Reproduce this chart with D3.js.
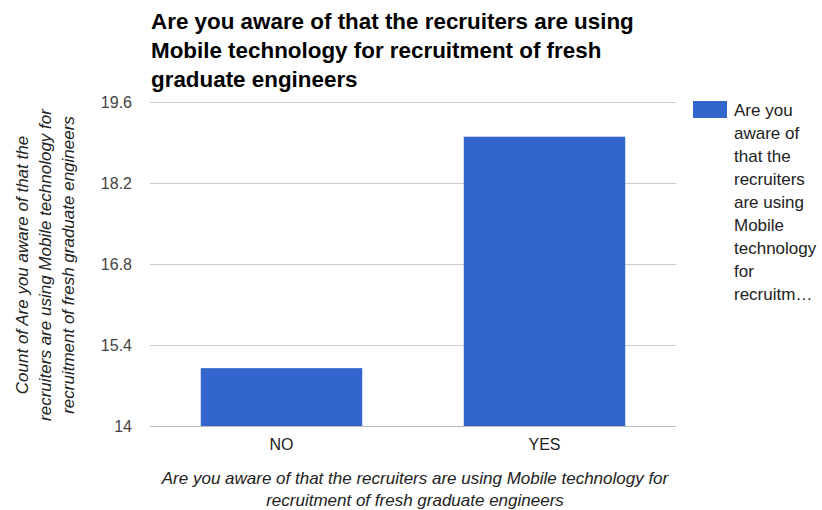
<!DOCTYPE html>
<html>
<head>
<meta charset="utf-8">
<script src="https://cdn.jsdelivr.net/npm/d3@7"></script>
<style>
  html, body { margin: 0; padding: 0; background: #fff; }
  svg { display: block; font-family: "Liberation Sans", Arial, sans-serif; }
</style>
</head>
<body>
<svg id="chart" width="822" height="510"></svg>
<script>
// Survey answers and counts
const categories = ["NO", "YES"];
const counts = [15, 19];
const yTicks = [14, 15.4, 16.8, 18.2, 19.6];

const titleLines = [
  "Are you aware of that the recruiters are using",
  "Mobile technology for recruitment of fresh",
  "graduate engineers"
];
const yTitleLines = [
  "Count of Are you aware of that the",
  "recruiters are using Mobile technology for",
  "recruitment of fresh graduate engineers"
];
const xTitleLines = [
  "Are you aware of that the recruiters are using Mobile technology for",
  "recruitment of fresh graduate engineers"
];
const legendLines = ["Are you", "aware of", "that the", "recruiters", "are using", "Mobile", "technology", "for", "recruitm…"];

const svg = d3.select("#chart");
const plot = { left: 150, right: 676, top: 102, bottom: 426 };
const barColor = "#3366cc";
const fontFamily = "Liberation Sans, Arial, sans-serif";

const x = d3.scaleBand().domain(categories).range([plot.left, plot.right]).paddingInner(0.386).paddingOuter(0.193);
const y = d3.scaleLinear().domain([14, 19.6]).range([plot.bottom, plot.top]);

// Gridlines
svg.append("g").selectAll("line").data(yTicks).join("line")
  .attr("x1", plot.left).attr("x2", plot.right)
  .attr("y1", d => y(d) + 0.5).attr("y2", d => y(d) + 0.5)
  .attr("stroke", d => d === 14 ? "#bbbbbb" : "#cccccc").attr("stroke-width", 1);

// Y tick labels
const yAxis = d3.axisLeft(y).tickValues(yTicks).tickSize(0).tickPadding(0).tickFormat(d => String(d));
svg.append("g").attr("transform", `translate(132,0)`).call(yAxis)
  .call(g => g.select(".domain").remove())
  .selectAll("text").attr("font-size", 16).attr("fill", "#444").attr("font-family", fontFamily);

// Bars
svg.append("g").selectAll("rect").data(categories).join("rect")
  .attr("x", d => x(d)).attr("width", x.bandwidth())
  .attr("y", (d, i) => y(counts[i])).attr("height", (d, i) => y(14) - y(counts[i]))
  .attr("fill", barColor);

// X labels
const xAxis = d3.axisBottom(x).tickSize(0).tickPadding(0);
svg.append("g").attr("transform", `translate(0,450)`).call(xAxis)
  .call(g => g.select(".domain").remove())
  .selectAll("text").attr("font-size", 16).attr("fill", "#222").attr("dy", 0)
  .attr("font-family", fontFamily);

// Title
svg.append("g").selectAll("text").data(titleLines).join("text")
  .attr("x", 151).attr("y", (d, i) => 29 + i * 29)
  .attr("font-size", 22.4).attr("font-weight", "bold").attr("fill", "#000")
  .text(d => d);

// Y-axis title
svg.append("g").attr("transform", "translate(0,265) rotate(-90)")
  .selectAll("text").data(yTitleLines).join("text")
  .attr("x", 0).attr("y", (d, i) => 28 + i * 23)
  .attr("text-anchor", "middle").attr("font-size", 17).attr("font-style", "italic").attr("fill", "#222")
  .text(d => d);

// X-axis title
svg.append("g").selectAll("text").data(xTitleLines).join("text")
  .attr("x", 415).attr("y", (d, i) => 484 + i * 22)
  .attr("text-anchor", "middle").attr("font-size", 17).attr("font-style", "italic").attr("fill", "#222")
  .text(d => d);

// Legend
svg.append("rect").attr("x", 693).attr("y", 101).attr("width", 34).attr("height", 17).attr("fill", barColor);
svg.append("g").selectAll("text").data(legendLines).join("text")
  .attr("x", 734).attr("y", (d, i) => 116 + i * 23)
  .attr("font-size", 17).attr("fill", "#222")
  .text(d => d);
</script>
</body>
</html>
